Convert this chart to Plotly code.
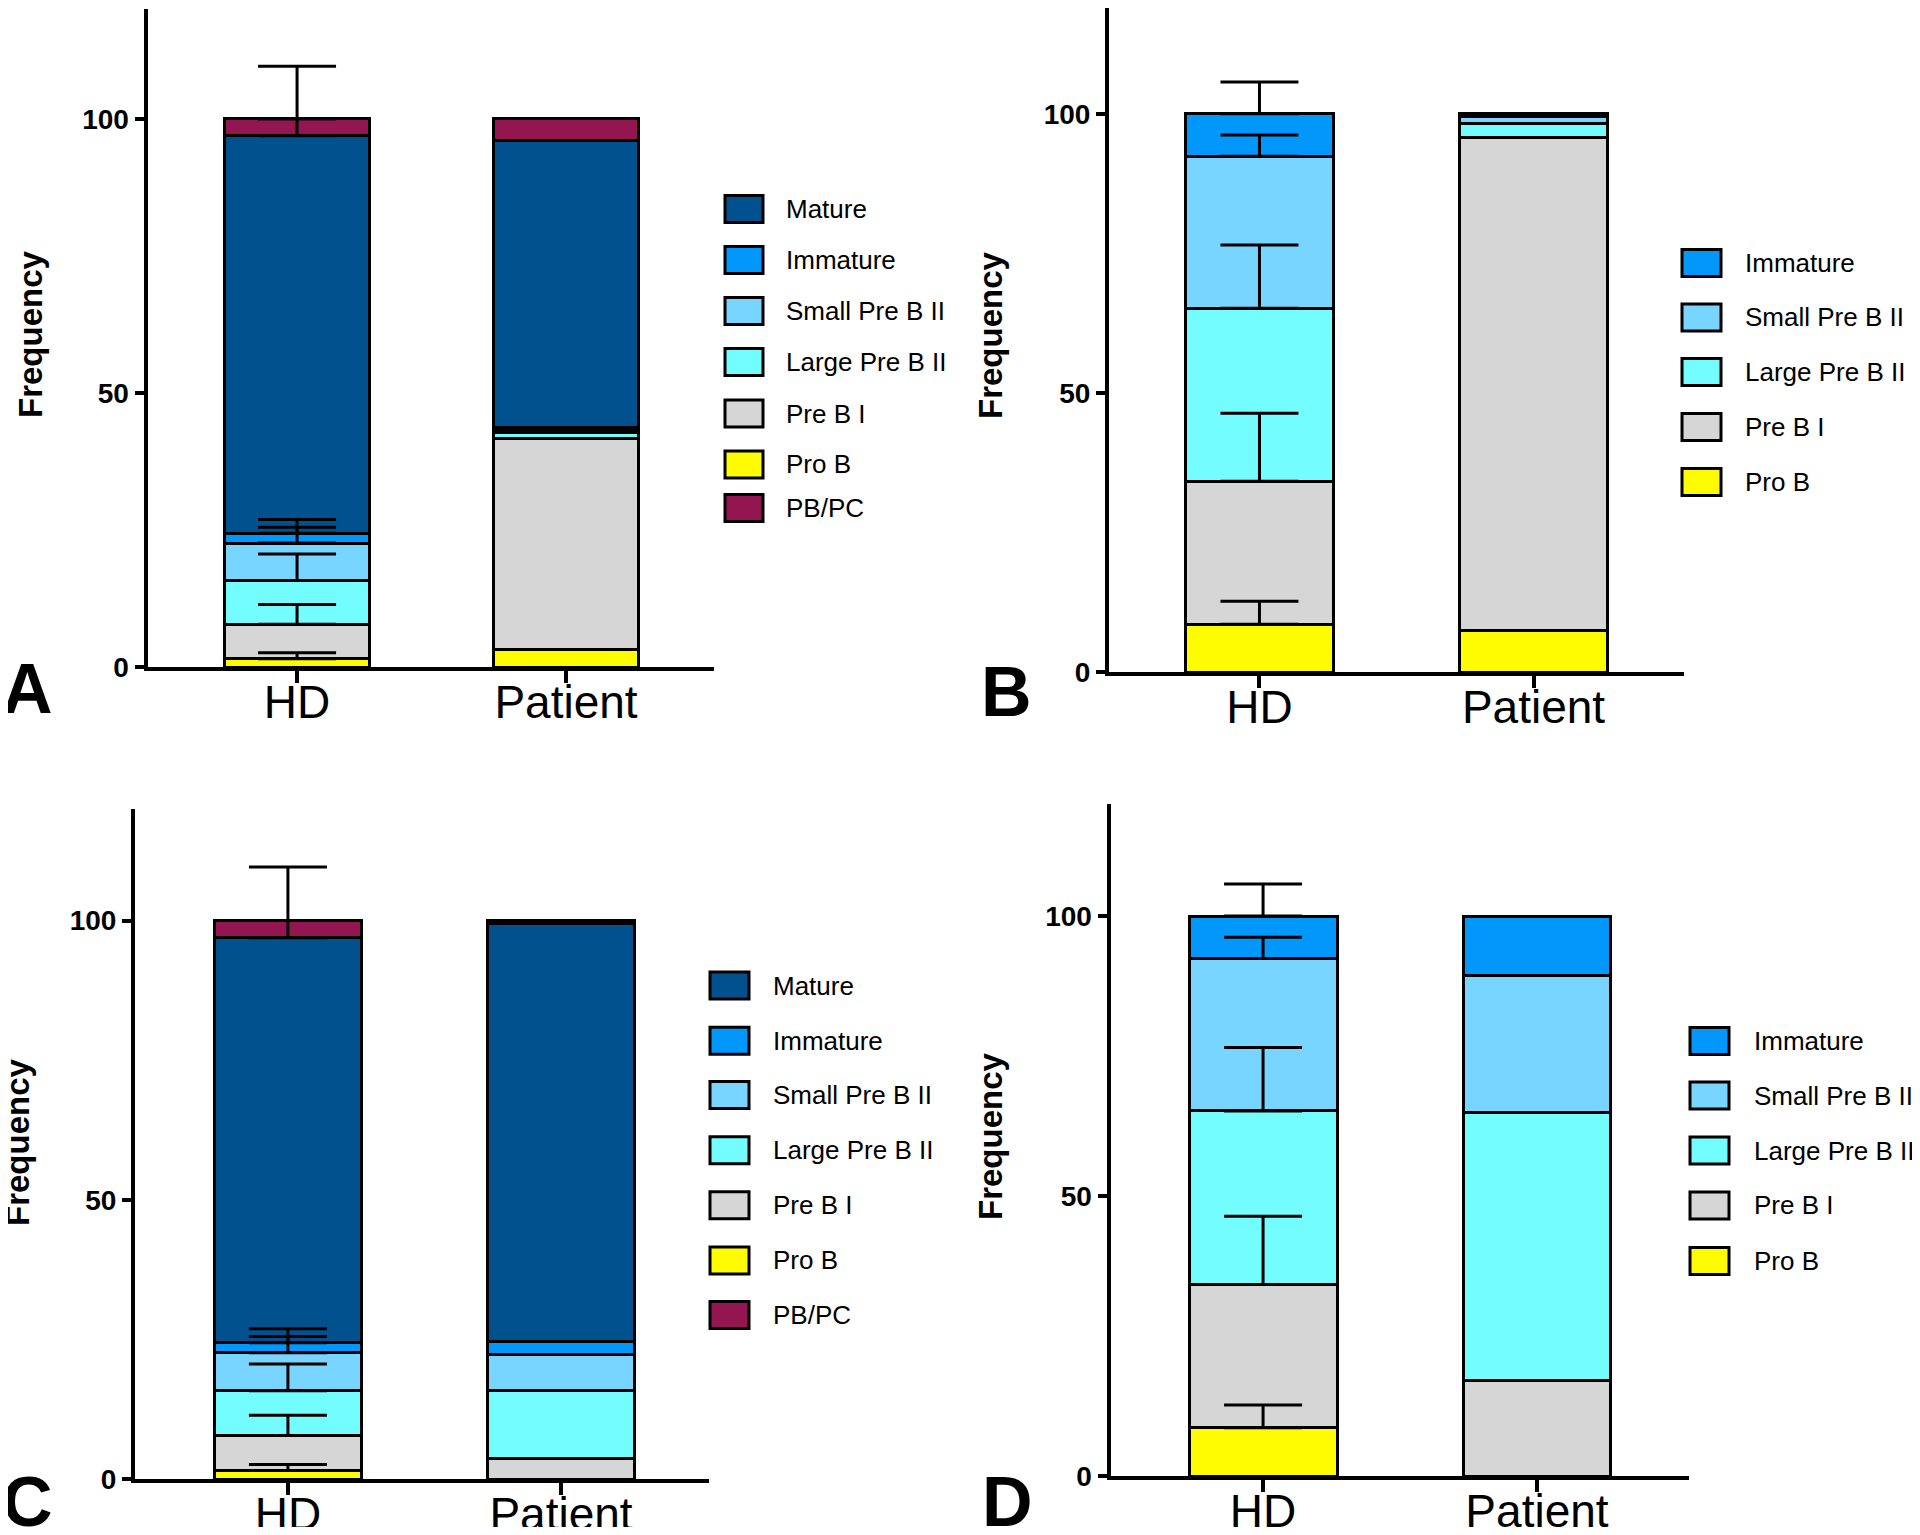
import numpy as np
import plotly.graph_objects as go

# ---------------- data ----------------
categories = ["HD", "Patient"]

series_7 = ["Pro B", "Pre B I", "Large Pre B II", "Small Pre B II", "Immature", "Mature", "PB/PC"]
series_5 = ["Pro B", "Pre B I", "Large Pre B II", "Small Pre B II", "Immature"]
legend_order_7 = ["Mature", "Immature", "Small Pre B II", "Large Pre B II", "Pre B I", "Pro B", "PB/PC"]
legend_order_5 = ["Immature", "Small Pre B II", "Large Pre B II", "Pre B I", "Pro B"]

# Panel A (segment values, bottom to top, in series_7 order)
hd_a = [1.5, 6.3, 8.0, 6.8, 1.8, 72.5, 3.1]
hd_a_err = [1.1, 3.6, 4.8, 2.9, 2.5, 3.1, 9.6]
patient_a = [3.2, 38.5, 1.0, 0.5, 0.5, 52.3, 4.0]

# Panel B (series_5 order)
hd_b = [8.6, 25.6, 31.0, 27.2, 7.6]
hd_b_err = [4.1, 12.2, 11.3, 3.8, 5.7]
patient_b = [7.5, 88.3, 2.5, 1.2, 0.5]

# Panel C (series_7 order)
hd_c = [1.5, 6.3, 8.0, 6.8, 1.8, 72.5, 3.1]
hd_c_err = [1.1, 3.6, 4.8, 2.9, 2.5, 3.1, 9.6]
patient_c = [0.0, 3.6, 12.2, 6.5, 2.4, 74.7, 0.6]

# Panel D (series_5 order)
hd_d = [8.6, 25.6, 31.0, 27.2, 7.6]
hd_d_err = [4.1, 12.2, 11.3, 3.8, 5.7]
patient_d = [0.0, 17.0, 47.9, 24.5, 10.6]

y_tickvals = [0, 50, 100]
y_max = 120
panel_letters = ["A", "B", "C", "D"]
y_title = "Frequency"

# ---------------- style ----------------
colors = {
    "Mature": "#02518F",
    "Immature": "#0197FB",
    "Small Pre B II": "#78D5FF",
    "Large Pre B II": "#73FDFF",
    "Pre B I": "#D6D6D6",
    "Pro B": "#FFFB00",
    "PB/PC": "#941651",
}

OFF = 8  # page body margin
W, H = 1920 - 2 * OFF, 1535 - 2 * OFF
FONT = "Liberation Sans, Arial, sans-serif"


def px(x):
    return (x - OFF) / W


def py(y):
    return min(1.0, max(0.0, 1 - (y - OFF) / H))


panels = [
    dict(suffix="", series=series_7, hd=hd_a, err=hd_a_err, pat=patient_a, legend=legend_order_7,
         xdom=[147.5, 714], xr=[-0.556, 1.550], ydom=[667, 9.2],
         leg_box=[725, 763], leg_text=784, leg_rows=[209, 260, 311, 362, 413.5, 464.5, 508],
         ytitle=(31, 334), letter=(27, 689)),
    dict(suffix="2", series=series_5, hd=hd_b, err=hd_b_err, pat=patient_b, legend=legend_order_5,
         xdom=[1109, 1684], xr=[-0.549, 1.549], ydom=[672.2, 2.2],
         leg_box=[1682, 1721], leg_text=1743, leg_rows=[263, 317.5, 372, 427, 482],
         ytitle=(990, 335), letter=(1006, 692)),
    dict(suffix="3", series=series_7, hd=hd_c, err=hd_c_err, pat=patient_c, legend=legend_order_7,
         xdom=[135, 709], xr=[-0.560, 1.542], ydom=[1479, 808.8],
         leg_box=[710, 749], leg_text=771, leg_rows=[985.6, 1040.8, 1095, 1150.2, 1205.2, 1260.4, 1315],
         ytitle=(17, 1142), letter=(27, 1502)),
    dict(suffix="4", series=series_5, hd=hd_d, err=hd_d_err, pat=patient_d, legend=legend_order_5,
         xdom=[1110.5, 1689], xr=[-0.557, 1.555], ydom=[1476, 804],
         leg_box=[1690, 1729], leg_text=1752, leg_rows=[1041, 1095.5, 1150.5, 1205.4, 1261],
         ytitle=(990, 1136), letter=(1007, 1502)),
]

fig = go.Figure()
shapes = []
annotations = []
layout_axes = {}

for k, p in enumerate(panels):
    s = p["suffix"]
    xa, ya = "x" + s, "y" + s
    for i, name in enumerate(p["series"]):
        fig.add_trace(go.Bar(
            x=categories, y=[p["hd"][i], p["pat"][i]], name=name,
            marker=dict(color=colors[name], line=dict(color="black", width=3)),
            width=0.54, xaxis=xa, yaxis=ya, showlegend=False, hoverinfo="skip",
        ))
    tops = np.cumsum(p["hd"])
    n = len(tops)
    fig.add_trace(go.Scatter(
        x=[categories[0]] * n, y=tops, mode="markers",
        marker=dict(size=1, color="rgba(0,0,0,0)"),
        error_y=dict(type="data", symmetric=False, array=p["err"], arrayminus=[0] * n,
                     color="black", thickness=3, width=39),
        xaxis=xa, yaxis=ya, showlegend=False, hoverinfo="skip",
    ))

    ybot, ytop = p["ydom"]
    ytop_c = max(ytop, OFF)
    rng_top = y_max * (ybot - ytop_c) / (ybot - ytop)

    layout_axes["xaxis" + s] = dict(
        domain=[px(p["xdom"][0]), px(p["xdom"][1])], range=p["xr"], anchor=ya,
        type="category", showline=True, linecolor="black", linewidth=4,
        ticks="outside", ticklen=12, tickwidth=4, tickcolor="black",
        ticklabelstandoff=-20,
        tickfont=dict(family=FONT, size=46, color="black"),
        showgrid=False, zeroline=False, automargin=False, fixedrange=True,
    )
    layout_axes["yaxis" + s] = dict(
        domain=[py(ybot), py(ytop_c)], range=[0, rng_top], anchor=xa,
        tickvals=y_tickvals, showline=True, linecolor="black", linewidth=4,
        ticks="outside", ticklen=9, tickwidth=4, tickcolor="black",
        tickfont=dict(family=FONT, size=28, color="black", weight="bold"),
        showgrid=False, zeroline=False, automargin=False, fixedrange=True,
    )

    # y title
    annotations.append(dict(
        text="<b>%s</b>" % y_title, x=px(p["ytitle"][0]), y=py(p["ytitle"][1]),
        xref="paper", yref="paper", showarrow=False, textangle=-90,
        xanchor="center", yanchor="middle",
        font=dict(family=FONT, size=33, color="black"),
    ))
    # panel letter
    annotations.append(dict(
        text="<b>%s</b>" % panel_letters[k], x=px(p["letter"][0]), y=py(p["letter"][1]),
        xref="paper", yref="paper", showarrow=False,
        xanchor="center", yanchor="middle",
        font=dict(family=FONT, size=70, color="black"),
    ))
    # legend
    for name, yc in zip(p["legend"], p["leg_rows"]):
        shapes.append(dict(
            type="rect", xref="paper", yref="paper",
            x0=px(p["leg_box"][0]), x1=px(p["leg_box"][1]),
            y0=py(yc - 13.5), y1=py(yc + 13.5),
            fillcolor=colors[name], line=dict(color="black", width=3),
        ))
        annotations.append(dict(
            text=name, x=px(p["leg_text"]), y=py(yc), xref="paper", yref="paper",
            showarrow=False, xanchor="left", yanchor="middle",
            font=dict(family=FONT, size=26, color="black"),
        ))

fig.update_layout(
    width=W, height=H, margin=dict(l=0, r=0, t=0, b=0),
    paper_bgcolor="white", plot_bgcolor="white",
    barmode="stack", showlegend=False,
    shapes=shapes, annotations=annotations,
    **layout_axes,
)

fig.write_html("out.html")
